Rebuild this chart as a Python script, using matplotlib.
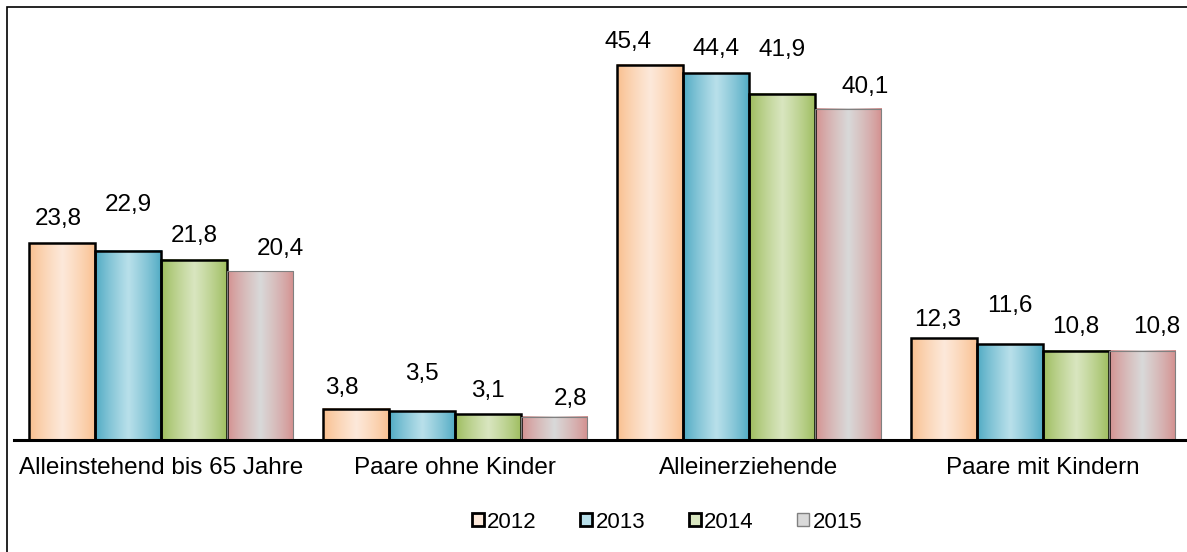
import numpy as np
import matplotlib
matplotlib.use('Agg')
import matplotlib.pyplot as plt
from matplotlib.colors import to_rgb
from matplotlib.patches import Rectangle, Patch

plt.rcParams['font.family'] = ['Liberation Sans', 'DejaVu Sans']

# data
categories = ['Alleinstehend bis 65 Jahre', 'Paare ohne Kinder', 'Alleinerziehende', 'Paare mit Kindern']
years = ['2012', '2013', '2014', '2015']
values = {
    '2012': [23.8, 3.8, 45.4, 12.3],
    '2013': [22.9, 3.5, 44.4, 11.6],
    '2014': [21.8, 3.1, 41.9, 10.8],
    '2015': [20.4, 2.8, 40.1, 10.8],
}

# styling: gradient (edge colour, centre colour), outline
edge_cols = ['#F9BE8C', '#4BA8C2', '#9BBB59', '#D48E8D']
mid_cols = ['#FDE9DA', '#B9E0EA', '#D9E6C0', '#D9D9D9']
outline = ['black', 'black', 'black', '#808080']
outline_w = [1.8, 1.8, 1.8, 0.8]
# label offsets in pixels (dx, dy above bar top), per year then category
lab_dx = [[-4, -14, -22, -6], [0, 0, 0, 0], [0, 0, 0, 0], [20, 16, 17, 15]]
lab_dy = [[24, 21, 23, 18], [46, 37, 24, 38], [24, 23, 44, 24], [22, 18, 22, 24]]

fig = plt.figure(figsize=(11.87, 5.52), dpi=100)
ax = fig.add_axes([14 / 1187, 1 - 440 / 552, 1 - 14 / 1187, 413 / 552])

x = np.arange(len(categories))
w = 0.2247
px2pt = 0.72


def gradient(c_edge, c_mid, n=64):
    t = np.linspace(0, 1, n)
    f = np.clip(1 - np.abs(t - 0.5) / 0.5, 0, 1) ** 0.8
    a = np.array(to_rgb(c_edge))
    b = np.array(to_rgb(c_mid))
    return (a[None, :] * (1 - f[:, None]) + b[None, :] * f[:, None])[None, :, :]


for i, yr in enumerate(years):
    xs = x + (i - 1.5) * w
    bars = ax.bar(xs, values[yr], width=w, facecolor='none', edgecolor=outline[i],
                  linewidth=outline_w[i], zorder=3)
    img = gradient(edge_cols[i], mid_cols[i])
    for j, b in enumerate(bars):
        x0 = b.get_x()
        h = b.get_height()
        ax.imshow(img, extent=(x0, x0 + w, 0, h), aspect='auto',
                  interpolation='bilinear', zorder=2)
        ax.annotate(f'{values[yr][j]:.1f}'.replace('.', ','),
                    (x0 + w / 2, h),
                    xytext=(lab_dx[i][j] * px2pt, lab_dy[i][j] * px2pt),
                    textcoords='offset points', ha='center', va='center',
                    fontsize=17.5)

ax.set_xlim(-0.5, 3.49)
ax.set_ylim(0, 50)
ax.set_xticks(x)
ax.set_xticklabels(categories, fontsize=17.5)
ax.tick_params(axis='x', length=0, pad=12)
ax.set_yticks([])
for s in ['top', 'left', 'right']:
    ax.spines[s].set_visible(False)
ax.spines['bottom'].set_linewidth(2.2)
ax.spines['bottom'].set_zorder(4)

handles = [Patch(facecolor=mid_cols[i], edgecolor=outline[i], linewidth=2 if i < 3 else 1)
           for i in range(4)]
fig.legend(handles, years, loc='center', bbox_to_anchor=(0.562, 1 - 522 / 552),
           ncol=4, frameon=False, fontsize=16, handlelength=0.55, handleheight=0.55,
           handletextpad=0.15, columnspacing=1.95)

# outer frame (only top/left inside the image)
fig.add_artist(Rectangle((6.5 / 1187, -0.2), 1.5, 1.2 - 7.5 / 552, transform=fig.transFigure,
                         fill=False, edgecolor='black', linewidth=1.2, clip_on=False))

fig.savefig('out.png', dpi=100)
